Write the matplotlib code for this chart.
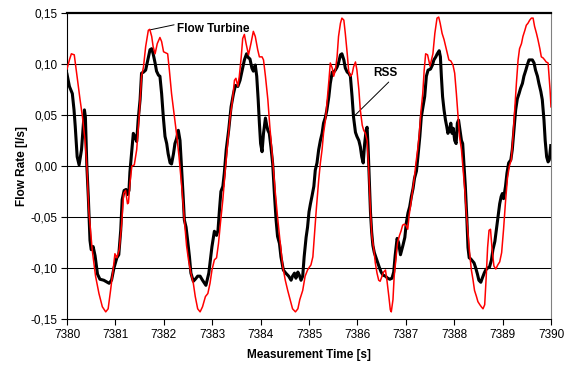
import numpy as np
import matplotlib
matplotlib.use('Agg')
import matplotlib.pyplot as plt

plt.rcParams['font.family'] = ['Liberation Sans', 'DejaVu Sans']

# Flow Turbine (red)
t_turbine = [
    7380.00, 7380.05, 7380.09, 7380.15, 7380.21, 7380.27, 7380.32, 7380.37, 7380.41, 7380.45,
    7380.52, 7380.59, 7380.66, 7380.73, 7380.80, 7380.85, 7380.90, 7380.96, 7380.99, 7381.03,
    7381.08, 7381.13, 7381.17, 7381.21, 7381.25, 7381.27, 7381.30, 7381.34, 7381.39, 7381.44,
    7381.49, 7381.54, 7381.58, 7381.625, 7381.68, 7381.71, 7381.75, 7381.78, 7381.82, 7381.865,
    7381.92, 7381.955, 7381.995, 7382.04, 7382.08, 7382.115, 7382.16, 7382.22, 7382.27, 7382.315,
    7382.37, 7382.425, 7382.47, 7382.51, 7382.56, 7382.61, 7382.65, 7382.70, 7382.75, 7382.80,
    7382.86, 7382.91, 7382.955, 7382.995, 7383.045, 7383.09, 7383.13, 7383.17, 7383.22, 7383.27,
    7383.32, 7383.37, 7383.41, 7383.46, 7383.49, 7383.53, 7383.56, 7383.60, 7383.63, 7383.665,
    7383.70, 7383.75, 7383.80, 7383.85, 7383.89, 7383.94, 7383.975, 7384.03, 7384.06, 7384.10,
    7384.15, 7384.19, 7384.25, 7384.30, 7384.35, 7384.40, 7384.46, 7384.51, 7384.56, 7384.61,
    7384.66, 7384.72, 7384.77, 7384.81, 7384.87, 7384.92, 7384.97, 7385.01, 7385.04, 7385.08,
    7385.11, 7385.15, 7385.20, 7385.235, 7385.27, 7385.30, 7385.34, 7385.37, 7385.41, 7385.44,
    7385.48, 7385.51, 7385.545, 7385.58, 7385.61, 7385.65, 7385.68, 7385.72, 7385.75, 7385.79,
    7385.82, 7385.855, 7385.89, 7385.92, 7385.96, 7385.99, 7386.03, 7386.06, 7386.10, 7386.13,
    7386.165, 7386.20, 7386.23, 7386.27, 7386.30, 7386.34, 7386.37, 7386.405, 7386.44, 7386.47,
    7386.51, 7386.54, 7386.58, 7386.61, 7386.65, 7386.68, 7386.70, 7386.735, 7386.76, 7386.80,
    7386.83, 7386.87, 7386.90, 7386.935, 7386.97, 7387.00, 7387.04, 7387.07, 7387.11, 7387.14,
    7387.18, 7387.21, 7387.245, 7387.28, 7387.31, 7387.35, 7387.38, 7387.41, 7387.45, 7387.50,
    7387.56, 7387.60, 7387.645, 7387.68, 7387.71, 7387.75, 7387.79, 7387.84, 7387.89, 7387.93,
    7387.975, 7388.01, 7388.045, 7388.08, 7388.11, 7388.15, 7388.18, 7388.22, 7388.25, 7388.29,
    7388.32, 7388.355, 7388.39, 7388.42, 7388.46, 7388.49, 7388.53, 7388.56, 7388.595, 7388.63,
    7388.66, 7388.69, 7388.72, 7388.75, 7388.78, 7388.82, 7388.86, 7388.90, 7388.94, 7388.98,
    7389.02, 7389.06, 7389.10, 7389.14, 7389.18, 7389.215, 7389.25, 7389.285, 7389.32, 7389.35,
    7389.39, 7389.42, 7389.46, 7389.49, 7389.525, 7389.56, 7389.595, 7389.63, 7389.66, 7389.70,
    7389.73, 7389.77, 7389.80, 7389.835, 7389.87, 7389.90, 7389.94, 7389.96, 7389.98, 7390.00,
]
q_turbine = [
    0.095, 0.104, 0.110, 0.109, 0.087, 0.065, 0.048, 0.026, 0.000, -0.043,
    -0.082, -0.108, -0.125, -0.138, -0.143, -0.140, -0.122, -0.099, -0.086, -0.090,
    -0.082, -0.056, -0.027, -0.024, -0.037, -0.036, -0.017, 0.000, 0.001, 0.016,
    0.048, 0.088, 0.097, 0.117, 0.133, 0.134, 0.127, 0.117, 0.110, 0.120,
    0.126, 0.122, 0.112, 0.111, 0.110, 0.094, 0.071, 0.048, 0.029, 0.009,
    -0.020, -0.053, -0.078, -0.092, -0.105, -0.115, -0.128, -0.140, -0.143, -0.138,
    -0.128, -0.125, -0.115, -0.102, -0.092, -0.090, -0.076, -0.056, -0.033, -0.004,
    0.022, 0.048, 0.061, 0.084, 0.086, 0.078, 0.088, 0.107, 0.125, 0.129,
    0.120, 0.109, 0.120, 0.132, 0.127, 0.114, 0.107, 0.107, 0.104, 0.088,
    0.065, 0.039, 0.006, -0.024, -0.050, -0.073, -0.099, -0.112, -0.122, -0.131,
    -0.140, -0.143, -0.140, -0.131, -0.122, -0.108, -0.102, -0.099, -0.097, -0.089,
    -0.069, -0.043, -0.014, 0.003, 0.016, 0.032, 0.045, 0.061, 0.083, 0.101,
    0.096, 0.088, 0.094, 0.107, 0.127, 0.140, 0.145, 0.143, 0.130, 0.110,
    0.093, 0.088, 0.090, 0.097, 0.102, 0.094, 0.075, 0.055, 0.040, 0.035,
    0.032, 0.025, 0.000, -0.045, -0.069, -0.082, -0.095, -0.105, -0.112, -0.113,
    -0.108, -0.104, -0.102, -0.112, -0.128, -0.141, -0.143, -0.131, -0.108, -0.089,
    -0.075, -0.068, -0.064, -0.058, -0.057, -0.058, -0.062, -0.048, -0.035, -0.024,
    -0.010, 0.003, 0.016, 0.032, 0.052, 0.071, 0.094, 0.110, 0.109, 0.098,
    0.110, 0.130, 0.145, 0.146, 0.140, 0.130, 0.124, 0.114, 0.104, 0.103,
    0.099, 0.091, 0.071, 0.048, 0.029, 0.016, -0.001, -0.024, -0.046, -0.069,
    -0.086, -0.102, -0.112, -0.122, -0.128, -0.133, -0.136, -0.138, -0.140, -0.136,
    -0.110, -0.080, -0.063, -0.062, -0.080, -0.098, -0.101, -0.097, -0.094, -0.085,
    -0.062, -0.035, -0.012, 0.000, 0.006, 0.029, 0.055, 0.081, 0.104, 0.115,
    0.120, 0.127, 0.133, 0.138, 0.140, 0.143, 0.145, 0.145, 0.137, 0.130,
    0.124, 0.115, 0.107, 0.106, 0.104, 0.102, 0.101, 0.088, 0.075, 0.058,
]

# RSS (black)
t_rss = [
    7380.00, 7380.05, 7380.11, 7380.145, 7380.17, 7380.21, 7380.25, 7380.30, 7380.34, 7380.36,
    7380.38, 7380.41, 7380.44, 7380.475, 7380.50, 7380.54, 7380.58, 7380.63, 7380.68, 7380.76,
    7380.87, 7380.92, 7380.97, 7381.03, 7381.07, 7381.11, 7381.14, 7381.18, 7381.22, 7381.25,
    7381.28, 7381.30, 7381.34, 7381.37, 7381.40, 7381.44, 7381.47, 7381.51, 7381.54, 7381.58,
    7381.625, 7381.67, 7381.715, 7381.75, 7381.78, 7381.82, 7381.85, 7381.89, 7381.92, 7381.955,
    7381.99, 7382.025, 7382.06, 7382.09, 7382.13, 7382.16, 7382.20, 7382.23, 7382.265, 7382.30,
    7382.335, 7382.37, 7382.40, 7382.425, 7382.46, 7382.49, 7382.53, 7382.56, 7382.61, 7382.65,
    7382.70, 7382.75, 7382.80, 7382.87, 7382.93, 7382.955, 7382.995, 7383.045, 7383.09, 7383.12,
    7383.15, 7383.18, 7383.22, 7383.25, 7383.29, 7383.34, 7383.39, 7383.44, 7383.48, 7383.53,
    7383.575, 7383.62, 7383.665, 7383.71, 7383.75, 7383.78, 7383.82, 7383.85, 7383.89, 7383.92,
    7383.95, 7383.975, 7384.00, 7384.03, 7384.06, 7384.10, 7384.125, 7384.15, 7384.18, 7384.215,
    7384.25, 7384.285, 7384.32, 7384.35, 7384.39, 7384.42, 7384.47, 7384.52, 7384.58, 7384.63,
    7384.66, 7384.70, 7384.73, 7384.77, 7384.80, 7384.835, 7384.87, 7384.90, 7384.94, 7384.97,
    7385.00, 7385.03, 7385.06, 7385.10, 7385.13, 7385.165, 7385.20, 7385.235, 7385.27, 7385.30,
    7385.34, 7385.37, 7385.41, 7385.44, 7385.48, 7385.51, 7385.545, 7385.58, 7385.61, 7385.65,
    7385.68, 7385.72, 7385.75, 7385.79, 7385.82, 7385.855, 7385.89, 7385.92, 7385.96, 7385.99,
    7386.03, 7386.06, 7386.09, 7386.12, 7386.15, 7386.18, 7386.20, 7386.22, 7386.24, 7386.27,
    7386.295, 7386.32, 7386.35, 7386.385, 7386.42, 7386.45, 7386.49, 7386.53, 7386.58, 7386.625,
    7386.67, 7386.715, 7386.75, 7386.78, 7386.82, 7386.85, 7386.89, 7386.94, 7386.98, 7387.01,
    7387.045, 7387.08, 7387.115, 7387.15, 7387.18, 7387.22, 7387.25, 7387.29, 7387.32, 7387.355,
    7387.39, 7387.425, 7387.46, 7387.51, 7387.55, 7387.58, 7387.62, 7387.65, 7387.69, 7387.715,
    7387.735, 7387.76, 7387.79, 7387.82, 7387.845, 7387.87, 7387.90, 7387.93, 7387.955, 7387.98,
    7388.01, 7388.04, 7388.065, 7388.09, 7388.12, 7388.15, 7388.175, 7388.20, 7388.23, 7388.26,
    7388.285, 7388.31, 7388.34, 7388.375, 7388.41, 7388.445, 7388.48, 7388.51, 7388.55, 7388.58,
    7388.62, 7388.65, 7388.69, 7388.73, 7388.77, 7388.80, 7388.84, 7388.87, 7388.905, 7388.94,
    7388.97, 7388.995, 7389.02, 7389.06, 7389.09, 7389.125, 7389.17, 7389.20, 7389.235, 7389.27,
    7389.305, 7389.34, 7389.37, 7389.41, 7389.44, 7389.48, 7389.51, 7389.545, 7389.58, 7389.615,
    7389.65, 7389.68, 7389.72, 7389.75, 7389.79, 7389.82, 7389.855, 7389.88, 7389.91, 7389.94,
    7389.965, 7389.995,
]
q_rss = [
    0.090, 0.078, 0.071, 0.055, 0.039, 0.009, 0.001, 0.016, 0.042, 0.055,
    0.048, 0.000, -0.030, -0.073, -0.082, -0.079, -0.088, -0.106, -0.111, -0.112,
    -0.115, -0.112, -0.100, -0.090, -0.087, -0.063, -0.033, -0.024, -0.023, -0.028,
    -0.024, -0.006, 0.016, 0.032, 0.029, 0.024, 0.045, 0.065, 0.091, 0.092,
    0.094, 0.104, 0.114, 0.115, 0.110, 0.101, 0.093, 0.089, 0.088, 0.071,
    0.048, 0.029, 0.022, 0.012, 0.003, 0.002, 0.012, 0.022, 0.027, 0.035,
    0.025, -0.004, -0.030, -0.053, -0.060, -0.072, -0.089, -0.105, -0.113, -0.111,
    -0.108, -0.108, -0.112, -0.117, -0.105, -0.095, -0.079, -0.064, -0.068, -0.063,
    -0.043, -0.025, -0.020, -0.007, 0.016, 0.035, 0.058, 0.071, 0.079, 0.078,
    0.084, 0.094, 0.104, 0.110, 0.106, 0.105, 0.096, 0.093, 0.099, 0.088,
    0.065, 0.042, 0.022, 0.014, 0.032, 0.047, 0.040, 0.035, 0.032, 0.018,
    0.002, -0.027, -0.053, -0.069, -0.076, -0.089, -0.102, -0.105, -0.108, -0.112,
    -0.108, -0.105, -0.110, -0.104, -0.107, -0.112, -0.108, -0.089, -0.070, -0.060,
    -0.045, -0.037, -0.030, -0.020, -0.004, 0.003, 0.016, 0.025, 0.032, 0.042,
    0.048, 0.055, 0.068, 0.081, 0.092, 0.092, 0.094, 0.097, 0.101, 0.109,
    0.110, 0.104, 0.096, 0.092, 0.091, 0.088, 0.068, 0.048, 0.033, 0.029,
    0.025, 0.019, 0.009, 0.003, 0.022, 0.035, 0.038, 0.020, -0.005, -0.045,
    -0.065, -0.078, -0.085, -0.090, -0.095, -0.099, -0.104, -0.107, -0.108, -0.110,
    -0.111, -0.110, -0.104, -0.088, -0.071, -0.075, -0.087, -0.078, -0.070, -0.056,
    -0.046, -0.040, -0.030, -0.022, -0.012, -0.005, 0.009, 0.029, 0.048, 0.058,
    0.068, 0.088, 0.094, 0.095, 0.099, 0.104, 0.107, 0.110, 0.113, 0.107,
    0.088, 0.068, 0.055, 0.045, 0.039, 0.032, 0.035, 0.042, 0.032, 0.037,
    0.025, 0.022, 0.042, 0.045, 0.035, 0.025, 0.022, 0.003, -0.020, -0.050,
    -0.080, -0.090, -0.091, -0.093, -0.095, -0.100, -0.106, -0.112, -0.114, -0.110,
    -0.105, -0.102, -0.100, -0.099, -0.092, -0.082, -0.074, -0.063, -0.050, -0.037,
    -0.030, -0.027, -0.032, -0.020, -0.007, 0.003, 0.006, 0.016, 0.035, 0.055,
    0.066, 0.071, 0.076, 0.081, 0.088, 0.094, 0.099, 0.104, 0.104, 0.104,
    0.101, 0.094, 0.088, 0.081, 0.073, 0.065, 0.045, 0.025, 0.009, 0.004,
    0.006, 0.020,
]

y_ticks = [-0.15, -0.10, -0.05, 0.00, 0.05, 0.10, 0.15]
x_ticks = list(range(7380, 7391))

fig = plt.figure(figsize=(5.71, 3.65), dpi=100)
ax = fig.add_axes([67 / 571, 46 / 365, 484 / 571, 306 / 365])

for v in y_ticks[1:-1]:
    ax.axhline(v, color='black', lw=0.75, zorder=1)

ax.plot(t_rss, q_rss, color='black', lw=2.2, zorder=3)
ax.plot(t_turbine, q_turbine, color='#ff0000', lw=1.1, zorder=4)

ax.set_xlim(7380, 7390)
ax.set_ylim(-0.15, 0.15)
ax.set_xticks(x_ticks)
ax.set_xticklabels([str(x) for x in x_ticks], fontsize=8.5)
ax.set_yticks(y_ticks)
ax.set_yticklabels([f"{v:.2f}".replace('.', ',') for v in y_ticks], fontsize=8.5)
ax.tick_params(direction='out', length=4, width=0.8, pad=3)

ax.spines['top'].set_linewidth(1.6)
ax.spines['top'].set_color('black')
ax.spines['right'].set_color('#808080')
ax.spines['right'].set_linewidth(0.8)
ax.spines['left'].set_linewidth(0.8)
ax.spines['bottom'].set_linewidth(0.8)

ax.annotate('Flow Turbine', xy=(7381.70, 0.1333), xytext=(7382.27, 0.1343),
            ha='left', va='center', fontsize=8.5, fontweight='bold',
            arrowprops=dict(arrowstyle='-', lw=0.7, color='black', relpos=(0, 0.9),
                            shrinkA=0, shrinkB=0))
ax.annotate('RSS', xy=(7385.92, 0.0483), xytext=(7386.58, 0.0909),
            ha='center', va='center', fontsize=8.5, fontweight='bold',
            arrowprops=dict(arrowstyle='-', lw=0.7, color='black', relpos=(0.75, 0),
                            shrinkA=0, shrinkB=0))

fig.text(22 / 571, 1 - 166 / 365, 'Flow Rate [l/s]', rotation=90, ha='center', va='center',
         fontsize=8.5, fontweight='bold')
fig.text(309 / 571, 1 - 355 / 365, 'Measurement Time [s]', ha='center', va='center',
         fontsize=8.5, fontweight='bold')

fig.savefig('out.png', dpi=100)
